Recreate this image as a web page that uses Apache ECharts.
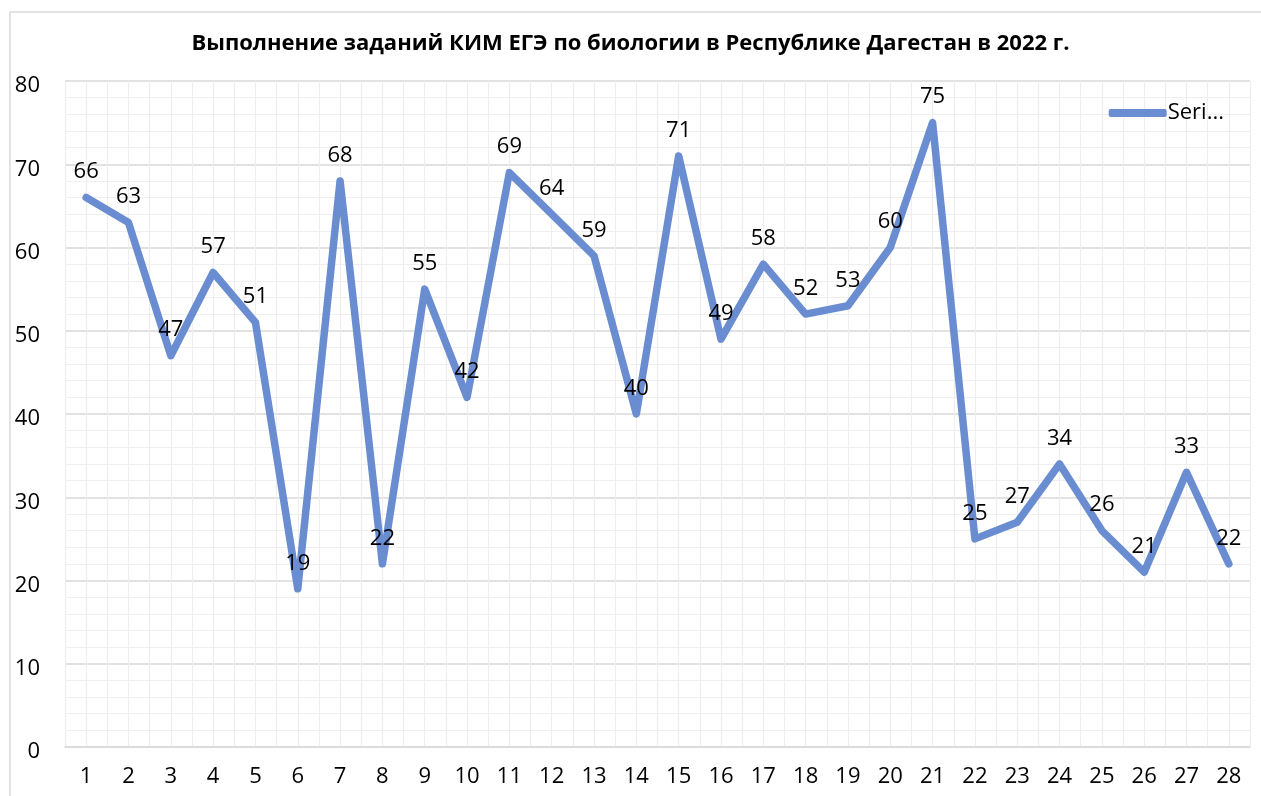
<!DOCTYPE html>
<html>
<head>
<meta charset="utf-8">
<script src="https://cdn.jsdelivr.net/npm/echarts@6/dist/echarts.min.js"></script>
<style>
  html, body { margin: 0; padding: 0; background: #fff; }
  #chart { width: 1261px; height: 796px; }
</style>
</head>
<body>
<div id="chart"></div>
<script>
// Номера заданий КИМ и процент выполнения
const taskNumbers = ['1','2','3','4','5','6','7','8','9','10','11','12','13','14',
                     '15','16','17','18','19','20','21','22','23','24','25','26','27','28'];
const completion = [66, 63, 47, 57, 51, 19, 68, 22, 55, 42, 69, 64, 59, 40,
                    71, 49, 58, 52, 53, 60, 75, 25, 27, 34, 26, 21, 33, 22];
const seriesName = 'Series1';
const titleText = 'Выполнение заданий КИМ ЕГЭ по биологии в Республике Дагестан в 2022 г.';

const numFont = '"Open Sans", "Noto Sans", sans-serif';
const lineColor = '#6a8dd2';

const chart = echarts.init(document.getElementById('chart'), null, { renderer: 'canvas' });

chart.setOption({
  animation: false,
  backgroundColor: '#ffffff',
  graphic: [{
    type: 'rect',
    z: -10,
    shape: { x: 10, y: 12, width: 1400, height: 900 },
    style: { fill: 'none', stroke: '#d9d9d9', lineWidth: 1.5 }
  }],
  title: {
    text: titleText,
    left: 'center',
    top: 28,
    textStyle: {
      fontFamily: numFont,
      fontWeight: 'bold',
      fontSize: 22,
      color: '#000'
    }
  },
  legend: {
    right: 32,
    top: 97,
    itemWidth: 58,
    itemHeight: 8,
    itemGap: 4,
    icon: 'roundRect',
    formatter: name => name.slice(0, 4) + '...',
    textStyle: { fontFamily: numFont, fontSize: 22, color: '#000', padding: [0, 0, 0, -4] }
  },
  grid: { left: 65, right: 11, top: 81, bottom: 49, containLabel: false },
  xAxis: [{
    type: 'category',
    data: taskNumbers,
    boundaryGap: true,
    axisLine: { show: true, lineStyle: { color: '#d9d9d9', width: 1.5 } },
    axisTick: { show: false },
    splitLine: { show: false },
    axisLabel: { fontFamily: numFont, fontSize: 22, color: '#000', margin: 19 }
  }, {
    // сетка: линии по центру заданий и между ними
    type: 'value',
    min: 0.5,
    max: 28.5,
    interval: 0.5,
    position: 'bottom',
    axisLine: { show: false },
    axisTick: { show: false },
    axisLabel: { show: false },
    splitLine: { show: true, lineStyle: { color: '#eeeeee', width: 1.2 } }
  }],
  yAxis: {
    type: 'value',
    min: 0,
    max: 80,
    interval: 10,
    axisLine: { show: false },
    axisTick: { show: false },
    axisLabel: {
      fontFamily: numFont, fontSize: 22, color: '#000', margin: 25,
      verticalAlign: 'top', lineHeight: 10
    },
    splitLine: { show: true, lineStyle: { color: '#d9d9d9', width: 1.5 } },
    minorTick: { show: false, splitNumber: 5 },
    minorSplitLine: { show: true, lineStyle: { color: '#efefef', width: 1.2 } }
  },
  series: [{
    name: seriesName,
    type: 'line',
    xAxisIndex: 0,
    data: completion,
    symbol: 'circle',
    symbolSize: 1,
    showSymbol: true,
    itemStyle: { color: lineColor },
    lineStyle: { color: lineColor, width: 7.5, cap: 'round', join: 'round' },
    label: {
      show: true,
      position: 'top',
      distance: 14,
      fontFamily: numFont,
      fontSize: 22,
      color: '#000'
    },
    z: 5
  }]
});
</script>
</body>
</html>
